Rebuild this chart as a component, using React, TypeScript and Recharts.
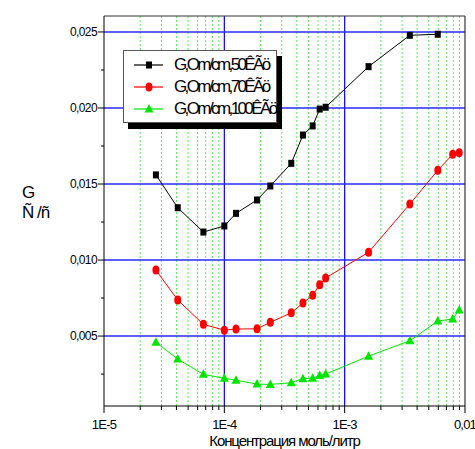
import React from "react"
import { LineChart, Line, XAxis, YAxis, ReferenceLine } from "recharts"

// concentration, mol/l
const conc = [2.7e-5, 4.1e-5, 6.7e-5, 1.0e-4, 1.25e-4, 1.87e-4, 2.41e-4, 3.6e-4, 4.5e-4, 5.42e-4, 6.2e-4, 6.95e-4, 1.58e-3, 3.48e-3, 5.94e-3, 7.9e-3, 8.95e-3]
const g50 = [0.0156, 0.01344, 0.01184, 0.01224, 0.01307, 0.01395, 0.01487, 0.01636, 0.01822, 0.01882, 0.01993, 0.02005, 0.02272, 0.02478, 0.02485]
const g70 = [0.00934, 0.00737, 0.00577, 0.00539, 0.00546, 0.00548, 0.0059, 0.00653, 0.00717, 0.00768, 0.00838, 0.00882, 0.01051, 0.01368, 0.0159, 0.01695, 0.01706]
const g100 = [0.00459, 0.00349, 0.00248, 0.00222, 0.0021, 0.00184, 0.00182, 0.00193, 0.0022, 0.00222, 0.00241, 0.0025, 0.00368, 0.00469, 0.00599, 0.00612, 0.00671]

const seriesNames = ["G,Om/cm,50ÊÃö", "G,Om/cm,70ÊÃö", "G,Om/cm,100ÊÃö"]
const xMajor = [1e-5, 1e-4, 1e-3, 1e-2]
const xLabels = ["1E-5", "1E-4", "1E-3", "0,01"]
const xMinor = [1e-5, 1e-4, 1e-3].flatMap((d) => [2, 3, 4, 5, 6, 7, 8, 9].map((k) => k * d))
const yTicks = [0.0025, 0.005, 0.0075, 0.01, 0.0125, 0.015, 0.0175, 0.02, 0.0225, 0.025]
const yMajor = [0.005, 0.01, 0.015, 0.02, 0.025]
const yDomain = [0.0004, 0.02605]

const data = conc.map((c, i) => ({ c, g50: g50[i], g70: g70[i], g100: g100[i] }))

const font = "'Liberation Sans', Arial, sans-serif"
const GREEN = "#00e600"

const isMajorX = (v: number) => Math.abs(Math.log10(v) - Math.round(Math.log10(v))) < 1e-6
const isMajorY = (v: number) => Math.abs(v / 0.005 - Math.round(v / 0.005)) < 1e-6

const XTick = (props: any) => {
  const { x, y, payload } = props
  const major = isMajorX(payload.value)
  const idx = xMajor.findIndex((m) => Math.abs(Math.log10(m) - Math.log10(payload.value)) < 1e-6)
  return (
    <g>
      <line x1={x} x2={x} y1={y} y2={y + (major ? 7 : 4)} stroke="#000" />
      {major && (
        <text x={x} y={y + 23} textAnchor="middle" fontSize={13} fontFamily={font} letterSpacing={-0.8} fill="#000">
          {xLabels[idx]}
        </text>
      )}
    </g>
  )
}

const YTick = (props: any) => {
  const { x, y, payload } = props
  const major = isMajorY(payload.value)
  return (
    <g>
      <line x1={x} x2={x - (major ? 6 : 3)} y1={y} y2={y} stroke="#000" />
      {major && (
        <text x={x - 7} y={y + 4} textAnchor="end" fontSize={12} fontFamily={font} letterSpacing={-0.6} fill="#000">
          {payload.value.toFixed(3).replace(".", ",")}
        </text>
      )}
    </g>
  )
}

const Square = (props: any) => {
  const { cx, cy, index } = props
  if (cx == null || cy == null) return <g key={index} />
  return <rect key={index} x={cx - 3} y={cy - 3.5} width={6} height={7} fill="#000" />
}
const Dot = (props: any) => {
  const { cx, cy, index } = props
  if (cx == null || cy == null) return <g key={index} />
  return <ellipse key={index} cx={cx} cy={cy} rx={3.5} ry={4.5} fill="#ff0000" />
}
const Tri = (props: any) => {
  const { cx, cy, index } = props
  if (cx == null || cy == null) return <g key={index} />
  return <polygon key={index} points={`${cx},${cy - 5} ${cx - 4.5},${cy + 3.5} ${cx + 4.5},${cy + 3.5}`} fill={GREEN} />
}

const LegendRow = ({ color, marker, label }: { color: string; marker: React.ReactNode; label: string }) => (
  <div style={{ display: "flex", alignItems: "center", height: 22 }}>
    <svg width={40} height={14} style={{ marginLeft: 8 }}>
      <line x1={2} x2={31} y1={7} y2={7} stroke={color} strokeWidth={1.2} />
      {marker}
    </svg>
    <span style={{ fontFamily: font, fontSize: 17, letterSpacing: -2.6, color: "#000", marginLeft: 2 }}>{label}</span>
  </div>
)

export default function App() {
  return (
    <div style={{ position: "absolute", left: 0, top: 0, width: 475, height: 449, background: "#fff" }}>
      <LineChart width={475} height={449} data={data} margin={{ top: 16, right: 10, bottom: 0, left: 0 }}>
        {xMinor.map((v) => (
          <ReferenceLine key={"xm" + v} x={v} stroke="#5ce85c" strokeDasharray="2 2" strokeWidth={1} />
        ))}
        {xMajor.slice(1, 3).map((v) => (
          <ReferenceLine key={"xM" + v} x={v} stroke="#0000ff" strokeWidth={1.2} />
        ))}
        {yMajor.map((v) => (
          <ReferenceLine key={"yM" + v} y={v} stroke="#2a2aff" strokeWidth={1.6} />
        ))}
        <ReferenceLine y={yDomain[1]} stroke="#333" strokeWidth={1.2} />
        <ReferenceLine x={1e-2} stroke="#333" strokeWidth={1.2} />
        <XAxis
          dataKey="c"
          type="number"
          scale="log"
          domain={[1e-5, 1e-2]}
          allowDataOverflow
          ticks={[...xMajor, ...xMinor]}
          interval={0}
          tickSize={0}
          tickMargin={0}
          tick={<XTick />}
          height={43}
          axisLine={{ stroke: "#000" }}
        />
        <YAxis
          type="number"
          domain={yDomain}
          allowDataOverflow
          ticks={yTicks}
          interval={0}
          tickSize={0}
          tickMargin={0}
          tick={<YTick />}
          width={104}
          axisLine={{ stroke: "#000" }}
        />
        <Line dataKey="g50" stroke="#000" strokeWidth={1} dot={<Square />} isAnimationActive={false} />
        <Line dataKey="g70" stroke="#ff0000" strokeWidth={1} dot={<Dot />} isAnimationActive={false} />
        <Line dataKey="g100" stroke={GREEN} strokeWidth={1} dot={<Tri />} isAnimationActive={false} />
      </LineChart>

      <div
        style={{
          position: "absolute",
          left: 123,
          top: 50,
          width: 152,
          height: 68,
          paddingTop: 3,
          background: "#fff",
          border: "1px solid #555",
          boxShadow: "5px 6px 0 #000",
        }}
      >
        <LegendRow color="#000" label={seriesNames[0]} marker={<rect x={14} y={3.5} width={6} height={7} fill="#000" />} />
        <LegendRow color="#ff0000" label={seriesNames[1]} marker={<ellipse cx={17} cy={7} rx={3.5} ry={4.5} fill="#ff0000" />} />
        <LegendRow color={GREEN} label={seriesNames[2]} marker={<polygon points="17,2 12.5,10.5 21.5,10.5" fill={GREEN} />} />
      </div>

      <div style={{ position: "absolute", left: 22, top: 183, fontFamily: font, fontSize: 17, lineHeight: "20px", color: "#000" }}>
        <div>G</div>
        <div style={{ letterSpacing: -1 }}>Ñ /ñ</div>
      </div>

      <div
        style={{
          position: "absolute",
          left: 104,
          width: 361,
          top: 432,
          textAlign: "center",
          fontFamily: font,
          fontSize: 15,
          letterSpacing: -1.1,
          color: "#000",
        }}
      >
        Концентрация моль/литр
      </div>
    </div>
  )
}
